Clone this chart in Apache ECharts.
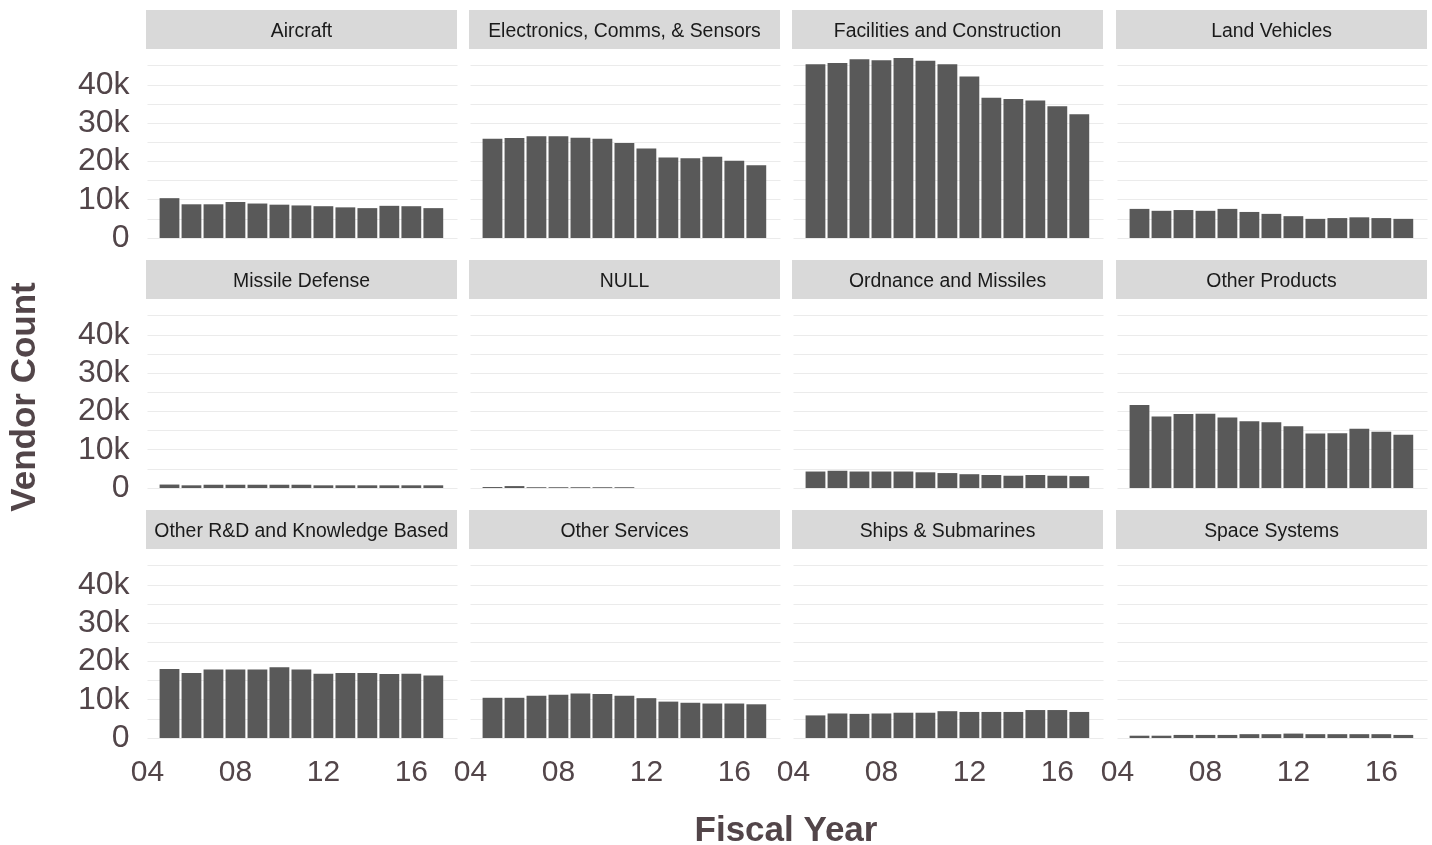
<!DOCTYPE html>
<html>
<head>
<meta charset="utf-8">
<script src="https://cdn.jsdelivr.net/npm/echarts@6.0.0/dist/echarts.min.js"></script>
<style>
html,body{margin:0;padding:0;background:#fff;}
#chart{width:1432px;height:845px;}
</style>
</head>
<body>
<div id="chart"></div>
<script>
// ---- data ----
const years = [2005, 2006, 2007, 2008, 2009, 2010, 2011, 2012, 2013, 2014, 2015, 2016, 2017];
const categories = ['Aircraft', 'Electronics, Comms, & Sensors', 'Facilities and Construction', 'Land Vehicles',
  'Missile Defense', 'NULL', 'Ordnance and Missiles', 'Other Products',
  'Other R&D and Knowledge Based', 'Other Services', 'Ships & Submarines', 'Space Systems'];
const aircraft = [10400, 8800, 8800, 9400, 9000, 8700, 8500, 8300, 8000, 7800, 8400, 8300, 7800];
const electronics = [25900, 26100, 26600, 26600, 26200, 25900, 24800, 23400, 21000, 20800, 21200, 20200, 19000];
const facilities = [45400, 45700, 46700, 46400, 47000, 46300, 45400, 42200, 36600, 36300, 35900, 34400, 32300];
const landVehicles = [7600, 7100, 7300, 7100, 7600, 6800, 6300, 5700, 5000, 5200, 5400, 5200, 5000];
const missileDefense = [900, 700, 850, 850, 850, 850, 850, 700, 700, 700, 700, 700, 700];
const nullCat = [250, 500, 200, 200, 200, 200, 200];
const ordnance = [4300, 4500, 4300, 4300, 4300, 4100, 3900, 3600, 3400, 3200, 3400, 3200, 3100];
const otherProducts = [21700, 18700, 19300, 19400, 18400, 17400, 17200, 16100, 14200, 14300, 15500, 14700, 13900];
const otherRD = [18000, 17000, 17900, 17900, 17900, 18500, 17900, 16800, 17000, 17000, 16700, 16800, 16300];
const otherServices = [10500, 10500, 11000, 11300, 11600, 11500, 11000, 10400, 9500, 9200, 9000, 9000, 8800];
const ships = [5900, 6400, 6300, 6400, 6600, 6600, 7000, 6800, 6800, 6800, 7300, 7300, 6800];
const space = [600, 600, 800, 800, 800, 1000, 1000, 1150, 1000, 1000, 1000, 1000, 800];
const yTickLabels = ['0', '10k', '20k', '30k', '40k'];
const xTickLabels = ['04', '08', '12', '16'];

const seriesValues = [aircraft, electronics, facilities, landVehicles,
  missileDefense, nullCat, ordnance, otherProducts,
  otherRD, otherServices, ships, space];

// ---- layout ----
const FONT = '"Liberation Sans", Arial, sans-serif';
const TXT = '#524549';
const stripLefts = [146, 469, 792, 1116];
const stripW = 311;
const gridW = 310;
const rowStep = 250;

const grids = [], xAxes = [], yAxes = [], series = [], graphics = [];

categories.forEach((name, i) => {
  const row = Math.floor(i / 4), col = i % 4;
  const left = stripLefts[col] + 1.5;
  const top = 49 + row * rowStep;
  grids.push({ left: left, top: top, width: gridW, height: 189 });
  xAxes.push({
    type: 'value', gridIndex: i, min: 2004, max: 2018.1, interval: 4,
    axisLine: { show: false }, axisTick: { show: false }, splitLine: { show: false },
    axisLabel: {
      show: row === 2, fontSize: 30, color: TXT, fontFamily: FONT, margin: 20,
      showMaxLabel: false,
      formatter: v => { const s = String(Math.round(v)).slice(2); return xTickLabels.indexOf(s) >= 0 ? s : ''; }
    }
  });
  yAxes.push({
    type: 'value', gridIndex: i, min: 0, max: 49350, interval: 5000,
    axisLine: { show: false }, axisTick: { show: false },
    splitLine: { show: true, showMaxLine: false, lineStyle: { color: '#ebebeb', width: 1 } },
    axisLabel: {
      show: col === 0, fontSize: 32, color: TXT, fontFamily: FONT, margin: 18,
      showMaxLabel: false,
      formatter: v => (v % 10000 === 0 && v / 10000 < yTickLabels.length) ? yTickLabels[v / 10000] : ''
    }
  });
  const vals = seriesValues[i];
  series.push({
    type: 'bar', xAxisIndex: i, yAxisIndex: i, barWidth: 19.8,
    itemStyle: { color: '#595959' }, silent: true,
    data: vals.map((v, k) => [years[k], v])
  });
  const sTop = 10 + row * rowStep;
  graphics.push({
    type: 'rect', shape: { x: stripLefts[col], y: sTop, width: stripW, height: 39 },
    style: { fill: '#d9d9d9' }, silent: true
  });
  graphics.push({
    type: 'text', x: stripLefts[col] + stripW / 2, y: sTop + 21.5,
    style: { text: name, fontSize: 19.4, fontFamily: FONT, fill: '#1a1a1a',
      textAlign: 'center', textVerticalAlign: 'middle', align: 'center', verticalAlign: 'middle' },
    silent: true
  });
});

graphics.push({
  type: 'text', x: 786, y: 831,
  style: { text: 'Fiscal Year', fontSize: 35, fontWeight: 'bold', fontFamily: FONT, fill: TXT,
    textAlign: 'center', textVerticalAlign: 'middle', align: 'center', verticalAlign: 'middle' },
  silent: true
});
graphics.push({
  type: 'text', x: 25, y: 397, rotation: Math.PI / 2,
  style: { text: 'Vendor Count', fontSize: 35, fontWeight: 'bold', fontFamily: FONT, fill: TXT,
    textAlign: 'center', textVerticalAlign: 'middle', align: 'center', verticalAlign: 'middle' },
  silent: true
});

const chart = echarts.init(document.getElementById('chart'), null, { renderer: 'canvas' });
chart.setOption({
  animation: false,
  backgroundColor: '#fff',
  grid: grids, xAxis: xAxes, yAxis: yAxes, series: series,
  graphic: graphics
});
</script>
</body>
</html>
